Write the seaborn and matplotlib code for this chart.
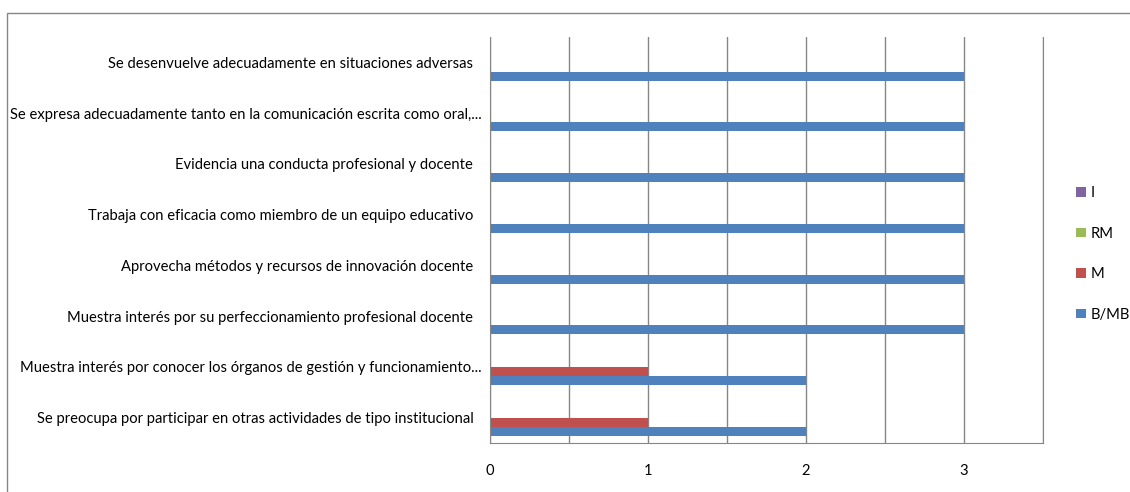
import pandas as pd
import matplotlib.pyplot as plt
import matplotlib.patches as patches
import matplotlib.transforms as mtransforms
from matplotlib.ticker import FixedLocator
import seaborn as sns

# ── data ─────────────────────────────────────────────────────────────────────
categories = [
    "Se desenvuelve adecuadamente en situaciones adversas",
    "Se expresa adecuadamente tanto en la comunicación escrita como oral,...",
    "Evidencia una conducta profesional y docente",
    "Trabaja con eficacia como miembro de un equipo educativo",
    "Aprovecha métodos y recursos de innovación docente",
    "Muestra interés por su perfeccionamiento profesional docente",
    "Muestra interés por conocer los órganos de gestión y funcionamiento...",
    "Se preocupa por participar en otras actividades de tipo institucional",
]
series = ["I", "RM", "M", "B/MB"]
vals_i = [0, 0, 0, 0, 0, 0, 0, 0]
vals_rm = [0, 0, 0, 0, 0, 0, 0, 0]
vals_m = [0, 0, 0, 0, 0, 0, 1, 1]
vals_bmb = [3, 3, 3, 3, 3, 3, 2, 2]
x_ticks = [0, 0.5, 1, 1.5, 2, 2.5, 3, 3.5]
x_labels = ["0", "", "1", "", "2", "", "3", ""]

palette = {"I": "#8064A2", "RM": "#9BBB59", "M": "#C0504D", "B/MB": "#4F81BD"}

df = pd.DataFrame({
    "item": categories * 4,
    "serie": ["I"] * 8 + ["RM"] * 8 + ["M"] * 8 + ["B/MB"] * 8,
    "valor": vals_i + vals_rm + vals_m + vals_bmb,
})

# ── plot ─────────────────────────────────────────────────────────────────────
sns.set_style("white")
plt.rcParams["font.family"] = ["Lato", "DejaVu Sans"]
grid_c = "#868686"
fs = 10.6

fig = plt.figure(figsize=(11.3, 4.92), dpi=100)
ax = fig.add_axes([490 / 1130, 1 - 443 / 492, 553 / 1130, 406 / 492])
sns.barplot(data=df, x="valor", y="item", hue="serie", hue_order=series,
            order=categories, palette=palette, width=0.72, saturation=1,
            orient="h", ax=ax, errorbar=None, linewidth=0)

ax.set_xlim(0, 3.5)
ax.xaxis.set_major_locator(FixedLocator(x_ticks))
ax.set_xticklabels(x_labels)
ax.set_yticks(range(len(categories)))
ax.set_yticklabels(categories)
ax.set_yticks([i - 0.5 for i in range(len(categories) + 1)], minor=True)
ax.grid(axis="x", color=grid_c, lw=1)
ax.set_axisbelow(True)
ax.tick_params(axis="x", length=5, color=grid_c, pad=10, labelsize=fs, labelcolor="black")
ax.tick_params(axis="y", which="major", length=0, pad=12, labelsize=fs, labelcolor="black")
ax.tick_params(axis="y", which="minor", length=4, color=grid_c)
ax.spines["top"].set_visible(False)
for s in ["left", "bottom", "right"]:
    ax.spines[s].set_color(grid_c)
ax.set_xlabel("")
ax.set_ylabel("")

# truncated labels (ending in "...") sit closer to the axis
shift = mtransforms.ScaledTranslation(8 / 100, 0, fig.dpi_scale_trans)
for lab in ax.get_yticklabels():
    if lab.get_text().endswith("..."):
        lab.set_transform(lab.get_transform() + shift)

handles, labels = ax.get_legend_handles_labels()
ax.get_legend().remove()
leg = fig.legend(handles, labels, loc="center left", bbox_to_anchor=(1063 / 1130, 1 - 254 / 492),
                 frameon=False, handlelength=0.65, handleheight=0.65, handletextpad=0.3,
                 labelspacing=1.8, fontsize=fs)
for t in leg.get_texts():
    t.set_color("black")

fig.add_artist(patches.Rectangle((7 / 1130, -0.1), 1.2, 1.1 - 13 / 492,
                                 transform=fig.transFigure, fill=False,
                                 edgecolor=grid_c, lw=1))

plt.savefig("out.png", dpi=100)
